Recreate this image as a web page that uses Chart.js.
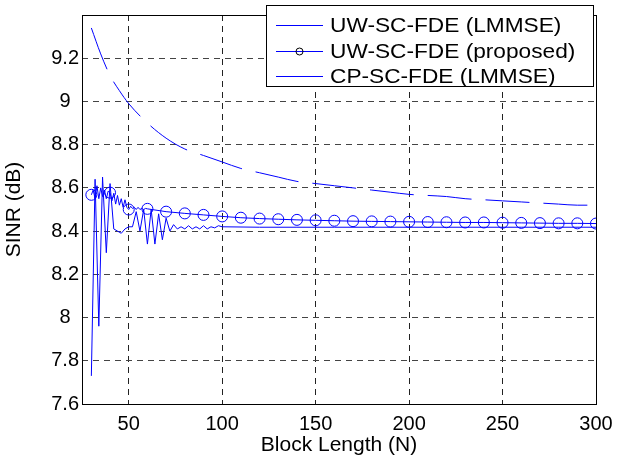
<!DOCTYPE html>
<html>
<head>
<meta charset="utf-8">
<script src="https://cdn.jsdelivr.net/npm/chart.js@4.4.1/dist/chart.umd.min.js"></script>
<style>
body{margin:0;background:#fff;}
#wrap{width:624px;height:466px;}
</style>
</head>
<body>
<div id="wrap"><canvas id="c" width="624" height="466"></canvas></div>
<script>
// block lengths and SINR values
const nLmmse = [30,35,40,45,50,60,70,80,90,100,110,120,130,140,150,160,170,180,190,200,210,220,230,240,250,260,270,280,290,300];
const uwLmmse = [9.34,9.22,9.12,9.05,8.99,8.90,8.83,8.78,8.75,8.72,8.69,8.67,8.65,8.63,8.62,8.61,8.60,8.59,8.58,8.57,8.565,8.56,8.55,8.545,8.54,8.535,8.53,8.525,8.52,8.52];

const nProposed = [30,31,32,33,34,35,36,37,38,39,40,41,42,43,44,45,46,47,48,49,50,51,52,53,54,55,56,57,58,59,60,
  70,80,90,100,110,120,130,140,150,160,170,180,190,200,210,220,230,240,250,260,270,280,290,300];
const uwProposed = [8.568,8.59,8.55,8.61,8.55,8.60,8.56,8.59,8.55,8.585,8.578,8.54,8.575,8.525,8.565,8.52,8.55,8.51,8.545,8.51,8.50,8.515,8.505,8.51,8.50,8.51,8.50,8.505,8.50,8.505,8.503,
  8.49,8.482,8.475,8.468,8.462,8.458,8.455,8.452,8.45,8.448,8.446,8.445,8.444,8.443,8.442,8.441,8.44,8.44,8.439,8.438,8.437,8.436,8.436,8.435];

const nCp = [30,32,34,36,38,40,42,44,46,48,50,52,54,56,58,60,62,64,66,68,70,72,74,76,78,80,82,84,86,88,90,92,94,96,98,100,
  120,140,160,180,200,220,240,260,280,300];
const cpLmmse = [7.73,8.64,7.96,8.65,8.30,8.62,8.41,8.40,8.39,8.41,8.42,8.42,8.49,8.40,8.50,8.34,8.50,8.34,8.48,8.36,8.46,8.40,8.43,8.41,8.42,8.41,8.425,8.41,8.42,8.41,8.425,8.41,8.42,8.415,8.425,8.42,
  8.418,8.418,8.418,8.418,8.418,8.418,8.418,8.418,8.418,8.418];

const xTicks = [50,100,150,200,250,300];
const yTicks = [7.6,7.8,8,8.2,8.4,8.6,8.8,9,9.2];
const labels = ['UW-SC-FDE (LMMSE)','UW-SC-FDE (proposed)','CP-SC-FDE (LMMSE)'];

const blue = '#0000ff';
const fontFam = '"Liberation Sans", Arial, sans-serif';
Chart.defaults.font.family = fontFam;
Chart.defaults.font.size = 20;
Chart.defaults.color = '#000';

const pts = (xs, ys) => xs.map((x,i)=>({x:x,y:ys[i]}));

// box round the axes + legend in the top right corner
const framePlugin = {
  id:'frame',
  afterDraw(chart){
    const ctx = chart.ctx, a = chart.chartArea;
    ctx.save();
    ctx.strokeStyle = '#000';
    ctx.lineWidth = 1;
    ctx.setLineDash([]);
    ctx.strokeRect(Math.round(a.left)+0.5, Math.round(a.top)+0.5, Math.round(a.right-a.left), Math.round(a.bottom-a.top));

    const bx = 266, by = 5, bw = Math.round(a.right)-3-bx, bh = 81;
    ctx.fillStyle = '#fff';
    ctx.fillRect(bx, by, bw, bh);
    ctx.strokeRect(bx+0.5, by+0.5, bw, bh);
    ctx.font = '21px ' + fontFam;
    ctx.textBaseline = 'middle';
    ctx.textAlign = 'left';
    chart.data.datasets.forEach((ds,i)=>{
      const y = Math.round(by + 20 + i*25.5);
      ctx.strokeStyle = blue;
      ctx.setLineDash([]);
      ctx.beginPath();
      ctx.moveTo(bx+10, y+0.5); ctx.lineTo(bx+57, y+0.5);
      ctx.stroke();
      if(ds.showMarker){
        ctx.strokeStyle = '#000';
        ctx.beginPath();
        ctx.arc(bx+33.5, y+0.5, 3.5, 0, Math.PI*2);
        ctx.stroke();
      }
      ctx.save();
      ctx.translate(bx+64, y+1);
      ctx.scale(1.08, 1);
      ctx.fillStyle = '#000';
      ctx.fillText(ds.label, 0, 0);
      ctx.restore();
    });
    ctx.restore();
  }
};

new Chart(document.getElementById('c'), {
  type:'line',
  data:{
    datasets:[
      {label:labels[0], data:pts(nLmmse,uwLmmse), borderColor:blue, borderWidth:1, borderDash:[44,14], pointRadius:0, cubicInterpolationMode:'monotone', fill:false},
      {label:labels[1], data:pts(nProposed,uwProposed), borderColor:blue, borderWidth:1, showMarker:true,
        pointRadius: c => (nProposed[c.dataIndex] % 10 === 0 ? 5.5 : 0),
        pointBorderColor:blue, pointBackgroundColor:'rgba(0,0,0,0)', pointBorderWidth:1, pointHoverRadius:0, fill:false},
      {label:labels[2], data:pts(nCp,cpLmmse), borderColor:blue, borderWidth:1, pointRadius:0, fill:false}
    ]
  },
  options:{
    responsive:false,
    animation:false,
    events:[],
    layout:{padding:{left:0,right:28,top:4,bottom:0}},
    plugins:{legend:{display:false}, tooltip:{enabled:false}},
    scales:{
      x:{
        type:'linear', min:25, max:300,
        afterBuildTicks: s => { s.ticks = xTicks.map(v=>({value:v})); },
        afterFit: s => { s.height = 62; },
        grid:{color:'#222', lineWidth:1, drawTicks:false},
        border:{display:false, dash:[6,5]},
        ticks:{padding:8, maxRotation:0},
        title:{display:true, text:'Block Length (N)', font:{size:21}, padding:{top:0,bottom:8}}
      },
      y:{
        type:'linear', min:7.6, max:9.4,
        afterBuildTicks: s => { s.ticks = yTicks.map(v=>({value:v})); },
        afterFit: s => { s.width = 82; },
        grid:{color:'#444', lineWidth:1, drawTicks:false},
        border:{display:false, dash:[6,5]},
        ticks:{padding:3, crossAlign:'center', callback: v => String(Math.round(v*10)/10)},
        title:{display:true, text:'SINR (dB)', font:{size:21}, padding:{top:2,bottom:0}}
      }
    }
  },
  plugins:[framePlugin]
});
</script>
</body>
</html>
